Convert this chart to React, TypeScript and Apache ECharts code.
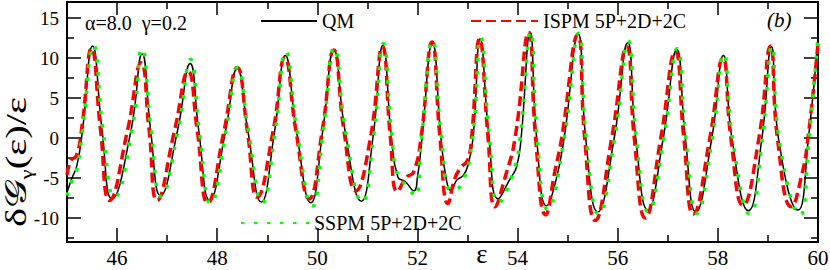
import React, { useEffect, useRef } from "react";
import * as echarts from "echarts";

// ---- data ----
const qmPoints: [number, number][] = [
  [45.0, -6.8], [45.1, -5.0], [45.2, -3.4], [45.31, 1.0], [45.51, 11.5], [45.7, 1.0], [45.9, -7.6],
  [46.28, 1.0], [46.5, 10.5], [46.67, 1.0], [46.87, -7.2], [47.21, 1.0], [47.46, 9.3], [47.63, 1.0],
  [47.85, -7.8], [48.17, 1.0], [48.4, 8.7], [48.61, 1.0], [48.88, -8.0], [49.15, 1.0], [49.36, 10.3],
  [49.58, 1.0], [49.87, -8.1], [50.11, 1.0], [50.33, 11.0], [50.55, 1.0], [50.88, -7.9], [51.11, 0],
  [51.31, 11.6], [51.48, 0], [51.61, -4.9], [51.75, -5.4], [51.93, -6.6], [52.0, -4.9], [52.08, -0.7],
  [52.3, 11.9], [52.47, 0], [52.58, -5.3], [52.67, -6.6], [52.78, -5.3], [52.91, -4.7], [53.0, -3.6],
  [53.11, 0], [53.25, 12.4], [53.43, 0], [53.61, -7.6], [53.85, -5.1], [53.98, -3.6], [54.07, 0],
  [54.25, 13.25], [54.38, 0], [54.58, -8.5], [54.75, -5.7], [54.93, 0], [55.21, 13.0], [55.36, 0],
  [55.6, -9.25], [55.93, 0], [56.2, 11.9], [56.36, 0], [56.6, -9.0], [56.91, 0], [57.18, 11.05],
  [57.35, 0], [57.56, -9.25], [57.88, 0], [58.11, 10.3], [58.28, 0], [58.61, -9.1], [58.88, 0],
  [59.07, 11.4], [59.21, 0], [59.6, -9.0], [59.81, 0], [60.0, 12.6],
];

const ispmPoints: [number, number][] = [
  [45.0, -4.6], [45.08, -2.8], [45.19, -2.2], [45.3, 1.5], [45.49, 11.2], [45.67, 1.0], [45.85, -7.8],
  [46.21, 1.0], [46.48, 9.4], [46.64, 1.0], [46.8, -7.8], [47.15, 1.0], [47.42, 8.3], [47.6, 1.0],
  [47.81, -8.1], [48.14, 1.0], [48.4, 8.8], [48.6, 1.0], [48.8, -7.4], [49.12, 1.0], [49.35, 10.0],
  [49.57, 1.0], [49.84, -7.6], [50.1, 1.0], [50.33, 11.0], [50.53, 1.0], [50.77, -6.6], [51.06, 0],
  [51.3, 11.4], [51.46, 0], [51.6, -6.7], [51.78, -4.9], [51.92, -4.3], [52.07, 0], [52.29, 12.0],
  [52.45, 0], [52.61, -8.2], [52.75, -5.0], [52.88, -3.6], [53.0, -2.8], [53.08, 0], [53.24, 12.4],
  [53.41, 0], [53.55, -8.6], [53.75, -4.9], [53.95, 0], [54.22, 13.2], [54.36, 0], [54.56, -9.6],
  [54.75, -4.0], [54.88, 0], [55.2, 12.9], [55.34, 0], [55.55, -10.3], [55.88, 0], [56.18, 11.4],
  [56.33, 0], [56.55, -10.0], [56.86, 0], [57.15, 10.8], [57.32, 0], [57.51, -9.5], [57.84, 0],
  [58.1, 10.0], [58.26, 0], [58.5, -8.4], [58.82, 0], [59.05, 11.5], [59.19, 0], [59.47, -8.6],
  [59.68, -4.5], [59.8, 0], [60.0, 11.8],
];

const sspmPoints: [number, number][] = [
  [45.0, -7.2], [45.1, -5.3], [45.2, -3.8], [45.31, 1.0], [45.53, 11.6], [45.72, 1.0], [45.95, -7.4],
  [46.3, 1.0], [46.5, 11.2], [46.68, 1.0], [46.88, -7.3], [47.22, 1.0], [47.47, 9.8], [47.64, 1.0],
  [47.87, -8.2], [48.18, 1.0], [48.41, 8.8], [48.62, 1.0], [48.9, -8.1], [49.16, 1.0], [49.37, 10.8],
  [49.59, 1.0], [49.9, -8.5], [50.12, 1.0], [50.34, 11.3], [50.56, 1.0], [50.9, -8.0], [51.12, 0],
  [51.32, 11.8], [51.49, 0], [51.62, -4.9], [51.8, -6.0], [51.95, -7.3], [52.08, 0], [52.3, 12.2],
  [52.48, 0], [52.67, -6.5], [52.88, -5.8], [53.1, 0], [53.26, 12.6], [53.44, 0], [53.62, -8.1],
  [53.9, -4.5], [54.05, 0], [54.26, 13.3], [54.39, 0], [54.6, -8.9], [54.93, 0], [55.22, 13.1],
  [55.37, 0], [55.62, -9.5], [55.94, 0], [56.21, 12.1], [56.37, 0], [56.61, -9.2], [56.92, 0],
  [57.19, 11.2], [57.36, 0], [57.58, -9.4], [57.89, 0], [58.12, 10.5], [58.29, 0], [58.64, -9.5],
  [58.89, 0], [59.08, 11.5], [59.22, 0], [59.64, -9.6], [59.82, 0], [60.0, 12.6],
];

const seriesNames = ["QM", "ISPM 5P+2D+2C", "SSPM 5P+2D+2C"];
const xMajorTicks = [46, 48, 50, 52, 54, 56, 58, 60];
const xMinorTicks = [47, 49, 51, 53, 55, 57, 59];
const yMajorTicks = [-10, -5, 0, 5, 10, 15];
const yMinorTicks = [-12.5, -7.5, -2.5, 2.5, 7.5, 12.5];
const xRange = [45, 60];
const yRange = [-13, 17];
const paramText = "α=8.0  γ=0.2";
const panelText = "(b)";

const serif = '"Liberation Serif", "DejaVu Serif", serif';

export default function App() {
  const ref = useRef<HTMLDivElement>(null);

  useEffect(() => {
    if (!ref.current) return;
    const chart = echarts.init(ref.current, undefined, { renderer: "svg" });

    const lineStyle = { color: "#000", width: 2 };
    const tickStyle = { color: "#000", width: 1.5 };

    const makeX = (position: string, ticks: number[], len: number, major: boolean, labels: boolean) => ({
      type: "value",
      position,
      min: xRange[0],
      max: xRange[1],
      axisLine: { show: major, onZero: false, lineStyle },
      axisTick: { show: true, inside: true, length: len, customValues: ticks, lineStyle: tickStyle },
      axisLabel: labels
        ? { show: true, customValues: ticks, fontSize: 21, fontFamily: serif, color: "#000", margin: 5 }
        : { show: false },
      splitLine: { show: false },
    });
    const makeY = (position: string, ticks: number[], len: number, major: boolean, labels: boolean) => ({
      type: "value",
      position,
      min: yRange[0],
      max: yRange[1],
      axisLine: { show: major, onZero: false, lineStyle },
      axisTick: { show: true, inside: true, length: len, customValues: ticks, lineStyle: tickStyle },
      axisLabel: labels
        ? { show: true, customValues: ticks, fontSize: 19, fontFamily: serif, color: "#000", margin: 8 }
        : { show: false },
      splitLine: { show: false },
    });

    const xMain: any = makeX("bottom", xMajorTicks, 14, true, true);
    xMain.name = "ε";
    xMain.nameLocation = "middle";
    xMain.nameGap = 2;
    xMain.nameMoveOverlap = false;
    xMain.nameTextStyle = {
      fontSize: 27,
      lineHeight: 20,
      fontFamily: serif,
      color: "#000",
      padding: [0, 0, 0, 79],
    };

    const legendBase = {
      orient: "horizontal",
      padding: 0,
      itemHeight: 14,
      selectedMode: false,
      itemStyle: { opacity: 0 },
      textStyle: { fontSize: 20, fontFamily: serif, color: "#000" },
    };

    chart.setOption({
      animation: false,
      backgroundColor: "#fff",
      grid: { left: 67, right: 12, top: 2, bottom: 28, containLabel: false, outerBoundsMode: "none" },
      xAxis: [
        xMain,
        makeX("bottom", xMinorTicks, 7, false, false),
        makeX("top", xMajorTicks, 13, true, false),
        makeX("top", xMinorTicks, 7, false, false),
      ],
      yAxis: [
        makeY("left", yMajorTicks, 14, true, true),
        makeY("left", yMinorTicks, 7, false, false),
        makeY("right", yMajorTicks, 14, true, false),
        makeY("right", yMinorTicks, 7, false, false),
      ],
      legend: [
        { ...legendBase, data: [seriesNames[0]], left: 260, top: 11, itemWidth: 56 },
        { ...legendBase, data: [seriesNames[1]], left: 470, top: 11, itemWidth: 67 },
        { ...legendBase, data: [seriesNames[2]], left: 240, top: 213, itemWidth: 68 },
      ],
      series: [
        {
          type: "line",
          name: seriesNames[0],
          data: qmPoints,
          smooth: 0.5,
          symbol: "none",
          showSymbol: false,
          itemStyle: { color: "#000" },
          lineStyle: { color: "#000", width: 1.5 },
          z: 2,
        },
        {
          type: "line",
          name: seriesNames[1],
          data: ispmPoints,
          smooth: 0.5,
          symbol: "none",
          showSymbol: false,
          itemStyle: { color: "#ff0000" },
          lineStyle: { color: "#ff0000", width: 3.5, type: [10, 5] },
          z: 3,
        },
        {
          type: "line",
          name: seriesNames[2],
          data: sspmPoints,
          smooth: 0.5,
          symbol: "none",
          showSymbol: false,
          itemStyle: { color: "#00ff00" },
          lineStyle: { color: "#00ff00", width: 3.5, type: [3.5, 9.5] },
          z: 4,
        },
      ],
      graphic: [
        {
          type: "text",
          x: 85,
          y: 23,
          style: {
            text: paramText,
            fontSize: 20,
            fontFamily: serif,
            fill: "#000",
            verticalAlign: "middle",
            align: "left",
          },
        },
        {
          type: "text",
          x: 767,
          y: 20,
          style: {
            text: panelText,
            fontSize: 21,
            fontStyle: "italic",
            fontFamily: serif,
            fill: "#000",
            verticalAlign: "middle",
            align: "left",
          },
        },
        {
          type: "text",
          x: 16,
          y: 162,
          rotation: Math.PI / 2,
          scaleX: 1.35,
          scaleY: 1,
          style: {
            text: "{d|δ}{g|𝒢}{s|γ}{d|(ε)/ε}",
            align: "center",
            verticalAlign: "middle",
            fill: "#000",
            rich: {
              d: { fontSize: 30, fontFamily: serif, fill: "#000" },
              g: { fontSize: 30, fontFamily: serif, fill: "#000" },
              s: { fontSize: 17, fontFamily: serif, fill: "#000", verticalAlign: "bottom", padding: [0, 0, -4, 0] },
            },
          },
        },
      ],
    });

    return () => chart.dispose();
  }, []);

  return (
    <div
      ref={ref}
      style={{ position: "absolute", left: 0, top: 0, width: 830, height: 270, background: "#fff" }}
    />
  );
}
